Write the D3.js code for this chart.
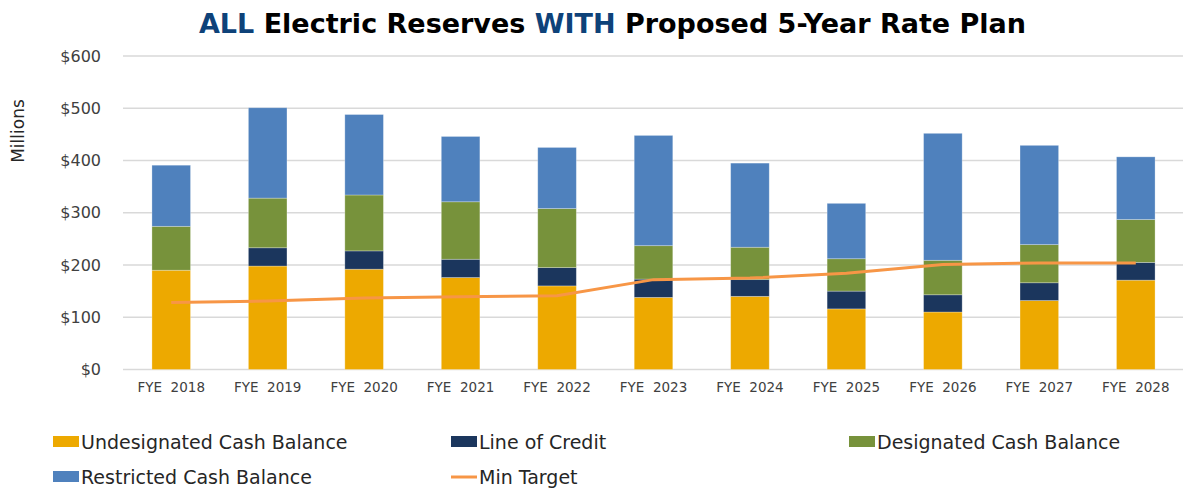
<!DOCTYPE html>
<html>
<head>
<meta charset="utf-8">
<script src="https://cdn.jsdelivr.net/npm/d3@7"></script>
<style>
  body { margin: 0; background: #fff; }
  svg text { font-family: "DejaVu Sans", sans-serif; }
</style>
</head>
<body>
<div id="chart"></div>
<script>
// chart data ($ millions)
const years = ["FYE  2018", "FYE  2019", "FYE  2020", "FYE  2021", "FYE  2022", "FYE  2023",
               "FYE  2024", "FYE  2025", "FYE  2026", "FYE  2027", "FYE  2028"];
const undesignated = [190, 198, 192, 176, 160, 138, 140, 116, 110, 132, 171];
const lineOfCredit = [0, 35, 35, 35, 35, 35, 32, 34, 33, 34, 34];
const designated   = [84, 95, 107, 110, 113, 64, 62, 62, 66, 73, 82];
const restricted   = [117, 173, 154, 125, 117, 211, 161, 106, 243, 190, 120];
const minTarget    = [128, 131, 137, 139, 141, 172, 175, 184, 201, 204, 204];
const yTicks = [0, 100, 200, 300, 400, 500, 600];

const seriesNames = ["Undesignated Cash Balance", "Line of Credit", "Designated Cash Balance", "Restricted Cash Balance"];
const seriesColors = ["#EDA900", "#1B365D", "#77923B", "#4F81BD"];
const lineColor = "#F79646";

const width = 1183, height = 496;
const margin = {top: 56, right: 0, bottom: 127, left: 123};

const svg = d3.select("#chart").append("svg")
    .attr("width", width)
    .attr("height", height);

// rows for stacking
let rows = years.map((y, i) => ({
    year: y,
    "Undesignated Cash Balance": undesignated[i],
    "Line of Credit": lineOfCredit[i],
    "Designated Cash Balance": designated[i],
    "Restricted Cash Balance": restricted[i]
}));
let stacked = d3.stack().keys(seriesNames)(rows);

let x = d3.scaleBand()
    .domain(years)
    .range([margin.left, width - margin.right + 1])
    .paddingInner(0.6)
    .paddingOuter(0.3);

let y = d3.scaleLinear()
    .domain([0, 600])
    .range([height - margin.bottom + 0.5, margin.top]);

// gridlines
svg.append("g")
    .selectAll("line")
    .data(yTicks)
    .join("line")
    .attr("x1", margin.left)
    .attr("x2", width)
    .attr("y1", d => y(d))
    .attr("y2", d => y(d))
    .attr("stroke", "#D9D9D9")
    .attr("stroke-width", 1.3);

// y axis labels
let yAxis = d3.axisLeft(y)
    .tickValues(yTicks)
    .tickFormat(d => "$" + d)
    .tickSize(0)
    .tickPadding(0);
svg.append("g")
    .attr("transform", "translate(101,0)")
    .call(yAxis)
    .call(g => g.select(".domain").remove())
    .selectAll("text")
    .attr("font-family", "DejaVu Sans, sans-serif")
    .attr("font-size", 16)
    .attr("fill", "#404040");

svg.append("text")
    .attr("transform", "translate(24,131) rotate(-90)")
    .attr("text-anchor", "middle")
    .attr("font-size", 17)
    .attr("fill", "#262626")
    .text("Millions");

// stacked bars
svg.append("g")
    .selectAll("g")
    .data(stacked)
    .join("g")
    .attr("fill", (d, i) => seriesColors[i])
    .selectAll("rect")
    .data(d => d)
    .join("rect")
    .attr("x", d => x(d.data.year))
    .attr("width", x.bandwidth())
    .attr("y", d => y(d[1]))
    .attr("height", d => y(d[0]) - y(d[1]))
    .attr("stroke", "#ffffff")
    .attr("stroke-opacity", 0.35)
    .attr("stroke-width", 0.8);

// x axis labels
let xAxis = d3.axisBottom(x).tickSize(0).tickPadding(0);
svg.append("g")
    .attr("transform", "translate(0," + (y(0) + 13) + ")")
    .call(xAxis)
    .call(g => g.select(".domain").remove())
    .selectAll("text")
    .attr("font-family", "DejaVu Sans, sans-serif")
    .attr("font-size", 13.5)
    .attr("fill", "#404040")
    .style("white-space", "pre")
    .attr("xml:space", "preserve");

// min target line
let line = d3.line()
    .x((d, i) => x(years[i]) + x.bandwidth() / 2)
    .y(d => y(d));
svg.append("path")
    .datum(minTarget)
    .attr("d", line)
    .attr("fill", "none")
    .attr("stroke", lineColor)
    .attr("stroke-width", 3);

// title
let title = svg.append("text")
    .attr("x", width / 2 + 21)
    .attr("y", 33)
    .attr("text-anchor", "middle")
    .attr("font-size", 27)
    .attr("font-weight", "bold");
title.append("tspan").attr("fill", "#0E4279").text("ALL");
title.append("tspan").attr("fill", "#000").text(" Electric Reserves ");
title.append("tspan").attr("fill", "#0E4279").text("WITH");
title.append("tspan").attr("fill", "#000").text(" Proposed 5-Year Rate Plan");

// legend
const legendItems = [
    {name: seriesNames[0], color: seriesColors[0], type: "box", col: 53, row: 442},
    {name: seriesNames[1], color: seriesColors[1], type: "box", col: 451, row: 442},
    {name: seriesNames[2], color: seriesColors[2], type: "box", col: 849, row: 442},
    {name: seriesNames[3], color: seriesColors[3], type: "box", col: 53, row: 477},
    {name: "Min Target", color: lineColor, type: "line", col: 451, row: 477}
];
let legend = svg.append("g")
    .selectAll("g")
    .data(legendItems)
    .join("g")
    .attr("transform", d => "translate(" + d.col + "," + d.row + ")");

legend.filter(d => d.type == "box")
    .append("rect")
    .attr("x", 0)
    .attr("y", -6)
    .attr("width", 26)
    .attr("height", 11)
    .attr("fill", d => d.color);
legend.filter(d => d.type == "line")
    .append("line")
    .attr("x1", 0)
    .attr("x2", 26)
    .attr("y1", 0)
    .attr("y2", 0)
    .attr("stroke", d => d.color)
    .attr("stroke-width", 3);
legend.append("text")
    .attr("x", 28)
    .attr("y", 0)
    .attr("dy", "0.35em")
    .attr("font-size", 19)
    .attr("fill", "#262626")
    .text(d => d.name);
</script>
</body>
</html>
